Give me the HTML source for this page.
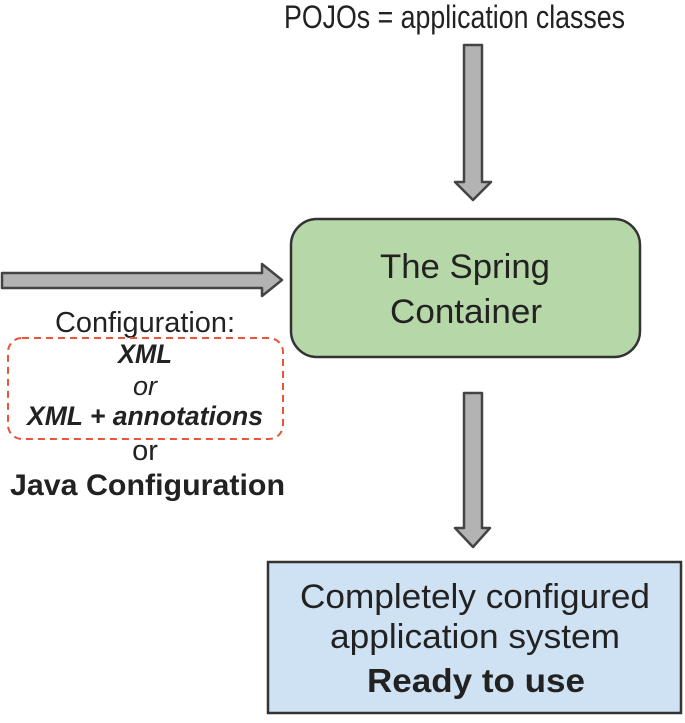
<!DOCTYPE html>
<html><head><meta charset="utf-8"><style>
body{margin:0;background:#fff;}
svg text{font-family:"Liberation Sans",sans-serif;fill:#222;}
</style></head><body>
<svg width="685" height="718" viewBox="0 0 685 718" xmlns="http://www.w3.org/2000/svg">
<text x="284" y="28" font-size="32" textLength="341" lengthAdjust="spacingAndGlyphs">POJOs = application classes</text>
<polygon points="464,45 482,45 482,182 491,182 473,200 455,182 464,182" fill="#b3b3b3" stroke="#444" stroke-width="2.5" stroke-linejoin="round"/>
<rect x="291" y="219" width="349" height="138" rx="26" fill="#b6d7a8" stroke="#333" stroke-width="2.5"/>
<text x="380" y="278" font-size="34" textLength="170" lengthAdjust="spacingAndGlyphs">The Spring</text>
<text x="390" y="323" font-size="34" textLength="152" lengthAdjust="spacingAndGlyphs">Container</text>
<polygon points="2,273 262,273 262,264 282,280 262,296 262,288 2,288" fill="#b3b3b3" stroke="#444" stroke-width="2.5" stroke-linejoin="round"/>
<text x="55" y="332" font-size="29" textLength="180" lengthAdjust="spacingAndGlyphs">Configuration:</text>
<rect x="8" y="338" width="275" height="101" rx="14" fill="none" stroke="#e8553a" stroke-width="2" stroke-dasharray="7,5"/>
<text x="145" y="363" font-size="27" font-weight="bold" font-style="italic" text-anchor="middle" textLength="54" lengthAdjust="spacingAndGlyphs">XML</text>
<text x="145" y="395" font-size="27" font-style="italic" text-anchor="middle">or</text>
<text x="27" y="425" font-size="27" font-weight="bold" font-style="italic" textLength="236" lengthAdjust="spacingAndGlyphs">XML + annotations</text>
<text x="145" y="460" font-size="29" text-anchor="middle">or</text>
<text x="10" y="495" font-size="30" font-weight="bold" textLength="275" lengthAdjust="spacingAndGlyphs">Java Configuration</text>
<polygon points="464,393 482,393 482,528 490,528 473,547 455,528 464,528" fill="#b3b3b3" stroke="#444" stroke-width="2.5" stroke-linejoin="round"/>
<rect x="268" y="562" width="413" height="151" fill="#cfe2f3" stroke="#333" stroke-width="2.5"/>
<text x="300" y="608" font-size="34" textLength="350" lengthAdjust="spacingAndGlyphs">Completely configured</text>
<text x="330" y="648" font-size="34" textLength="290" lengthAdjust="spacingAndGlyphs">application system</text>
<text x="367" y="692" font-size="33" font-weight="bold" textLength="218" lengthAdjust="spacingAndGlyphs">Ready to use</text>
</svg>
</body></html>
